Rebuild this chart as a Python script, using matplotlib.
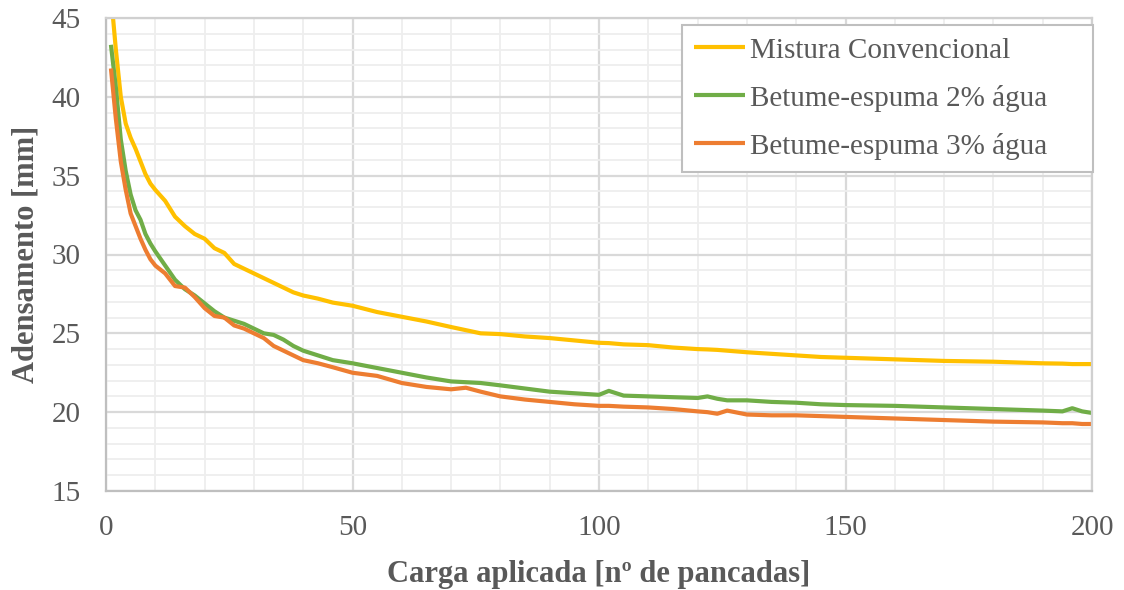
import matplotlib
matplotlib.use("Agg")
import matplotlib.pyplot as plt
from matplotlib.ticker import MultipleLocator

x = [1, 2, 3, 4, 5, 6, 7, 8, 9, 10,
     12, 14, 16, 18, 20, 22, 24, 26, 28, 30, 32, 34, 36, 38, 40,
     43, 46, 50, 55, 60, 65, 70, 73, 76, 80, 85, 90, 95, 100,
     102, 105, 110, 115, 120, 122, 124, 126, 130, 135, 140, 145, 150,
     160, 170, 180, 190, 194, 196, 198, 200]

mistura = [46.5, 43.0, 40.0, 38.3, 37.4, 36.7, 35.9, 35.1, 34.5, 34.1,
           33.4, 32.4, 31.8, 31.3, 31.0, 30.4, 30.1, 29.4, 29.1, 28.8, 28.5, 28.2, 27.9, 27.6, 27.4,
           27.2, 26.95, 26.75, 26.35, 26.05, 25.75, 25.4, 25.2, 25.0, 24.95, 24.8, 24.7, 24.55, 24.4,
           24.38, 24.3, 24.25, 24.1, 24.0, 23.98, 23.95, 23.9, 23.8, 23.7, 23.6, 23.5, 23.45,
           23.35, 23.25, 23.2, 23.1, 23.08, 23.05, 23.05, 23.05]

betume2 = [43.3, 40.6, 37.3, 35.3, 33.8, 32.8, 32.2, 31.3, 30.7, 30.2,
           29.3, 28.4, 27.8, 27.4, 26.9, 26.4, 26.0, 25.8, 25.6, 25.3, 25.0, 24.9, 24.6, 24.2, 23.9,
           23.6, 23.3, 23.1, 22.8, 22.5, 22.2, 21.95, 21.9, 21.85, 21.7, 21.5, 21.3, 21.2, 21.1,
           21.35, 21.05, 21.0, 20.95, 20.9, 21.0, 20.85, 20.75, 20.75, 20.65, 20.6, 20.5, 20.45,
           20.4, 20.3, 20.2, 20.1, 20.05, 20.25, 20.05, 19.95]

betume3 = [41.8, 38.6, 35.9, 34.1, 32.6, 31.8, 31.0, 30.3, 29.7, 29.3,
           28.8, 28.0, 27.9, 27.3, 26.6, 26.1, 26.0, 25.5, 25.3, 25.0, 24.7, 24.2, 23.9, 23.6, 23.3,
           23.1, 22.85, 22.5, 22.3, 21.85, 21.6, 21.45, 21.55, 21.3, 21.0, 20.8, 20.65, 20.5, 20.4,
           20.4, 20.35, 20.3, 20.2, 20.05, 20.0, 19.9, 20.1, 19.85, 19.8, 19.8, 19.75, 19.7,
           19.6, 19.5, 19.4, 19.35, 19.3, 19.3, 19.25, 19.25]

labels = ["Mistura Convencional", "Betume-espuma 2% água", "Betume-espuma 3% água"]
colors = ["#FFC000", "#70AD47", "#ED7D31"]

plt.rcParams['font.family'] = ['Liberation Serif', 'DejaVu Serif']
txt = "#595959"

fig = plt.figure(figsize=(11.24, 5.90), dpi=100)
ax = fig.add_axes([106/1124, 1-491/590, (1092-106)/1124, (491-18)/590])

for ys, lab, c in zip([mistura, betume2, betume3], labels, colors):
    ax.plot(x, ys, color=c, lw=3.0, label=lab, solid_capstyle='butt')

ax.set_xlim(0, 200)
ax.set_ylim(15, 45)
ax.xaxis.set_major_locator(MultipleLocator(50))
ax.xaxis.set_minor_locator(MultipleLocator(10))
ax.yaxis.set_major_locator(MultipleLocator(5))
ax.yaxis.set_minor_locator(MultipleLocator(1))
ax.grid(which='major', color='#D9D9D9', lw=1.6)
ax.grid(which='minor', color='#EEEEEE', lw=1.3)
ax.set_axisbelow(True)
for s in ax.spines.values():
    s.set_color('#D0D0D0')
    s.set_linewidth(1.6)
ax.spines['left'].set_color('#BFBFBF')
ax.spines['bottom'].set_color('#BFBFBF')

ax.tick_params(which='both', length=0, labelsize=21, labelcolor=txt)
ax.tick_params(axis='y', pad=18)
ax.tick_params(axis='x', pad=17)

ax.set_xlabel("Carga aplicada [nº de pancadas]", fontsize=22, fontweight='bold', color=txt, labelpad=14)
ax.set_ylabel("Adensamento [mm]", fontsize=22, fontweight='bold', color=txt, labelpad=8)

leg = ax.legend(loc='upper left',
                bbox_to_anchor=(682/1124, 1-167/590, 411/1124, 142/590),
                bbox_transform=fig.transFigure, mode='expand',
                fontsize=21, frameon=True, fancybox=False, edgecolor='#BFBFBF', framealpha=1,
                handlelength=1.75, handletextpad=0.15, labelspacing=0.72, borderpad=0.42, borderaxespad=0)
leg.get_frame().set_linewidth(1.5)
for t in leg.get_texts():
    t.set_color(txt)

fig.savefig("out.png", dpi=100)
